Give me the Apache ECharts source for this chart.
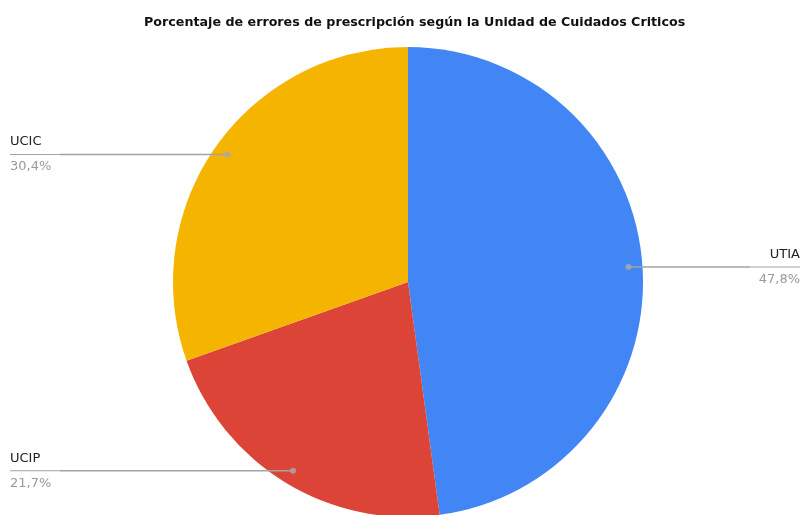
<!DOCTYPE html>
<html>
<head>
<meta charset="utf-8">
<script src="https://cdn.jsdelivr.net/npm/echarts@6/dist/echarts.min.js"></script>
<style>
  html, body { margin: 0; padding: 0; background: #fff; }
  #chart { width: 810px; height: 515px; }
</style>
</head>
<body>
<div id="chart"></div>
<script>
// Porcentaje de errores por unidad (orden horario desde las 12)
const units = ['UTIA', 'UCIP', 'UCIC'];
const shares = [47.8, 21.7, 30.4];
const sliceColors = ['#4285F4', '#DB4437', '#F4B400'];
const chartTitle = 'Porcentaje de errores de prescripción según la Unidad de Cuidados Criticos';

const CENTER = [408, 282];
const RADIUS = 235;
const DOT_R = 0.94; // fraction of the radius where the leader line starts

const fmt = v => v.toFixed(1).replace('.', ',') + '%';

// mid-angle of each slice, in the same 0..total scale as the angle axis
const total = shares.reduce((a, b) => a + b, 0);
let acc = 0;
const mids = shares.map(v => { const m = acc + v / 2; acc += v; return m; });

const pieData = units.map((u, i) => ({ name: u, value: shares[i], itemStyle: { color: sliceColors[i] } }));

const chart = echarts.init(document.getElementById('chart'), null, { renderer: 'canvas' });
chart.setOption({
  animation: false,
  backgroundColor: '#ffffff',
  title: {
    text: chartTitle,
    left: 139,
    top: 11,
    textStyle: { fontFamily: 'DejaVu Sans', fontWeight: 'bold', fontSize: 12.7, color: '#111' }
  },
  polar: { center: CENTER, radius: RADIUS },
  angleAxis: { type: 'value', min: 0, max: total, startAngle: 90, clockwise: true, show: false },
  radiusAxis: { type: 'value', min: 0, max: 1, show: false },
  series: [
    {
      type: 'pie',
      center: CENTER,
      radius: RADIUS,
      startAngle: 90,
      clockwise: true,
      label: { show: false },
      labelLine: { show: false },
      itemStyle: { borderWidth: 0 },
      data: pieData,
      z: 1
    },
    {
      // transparent overlay carrying the labels and leader lines
      type: 'pie',
      center: CENTER,
      radius: RADIUS * DOT_R,
      startAngle: 90,
      clockwise: true,
      silent: true,
      avoidLabelOverlap: true,
      itemStyle: { color: 'rgba(0,0,0,0)' },
      label: {
        show: true,
        position: 'outside',
        alignTo: 'edge',
        edgeDistance: 10,
        distanceToLabelLine: 0,
        formatter: p => '{n|' + p.name + '}\n{l| }\n{p|' + fmt(p.value) + '}',
        rich: {
          n: { fontFamily: 'DejaVu Sans', fontSize: 13, color: '#222', lineHeight: 24 },
          l: { width: 50, height: 1, lineHeight: 1, fontSize: 1, backgroundColor: '#a3a3a3' },
          p: { fontFamily: 'DejaVu Sans', fontSize: 13, color: '#9a9a9a', lineHeight: 24 }
        }
      },
      labelLine: { show: true, length: 0, length2: 10, lineStyle: { color: '#a3a3a3', width: 1.5 } },
      data: units.map((u, i) => ({ name: u, value: shares[i] })),
      z: 2
    },
    {
      type: 'scatter',
      coordinateSystem: 'polar',
      symbolSize: 6,
      itemStyle: { color: '#a9a9a9' },
      data: mids.map(m => [DOT_R, m]),
      z: 3
    }
  ]
});
</script>
</body>
</html>
